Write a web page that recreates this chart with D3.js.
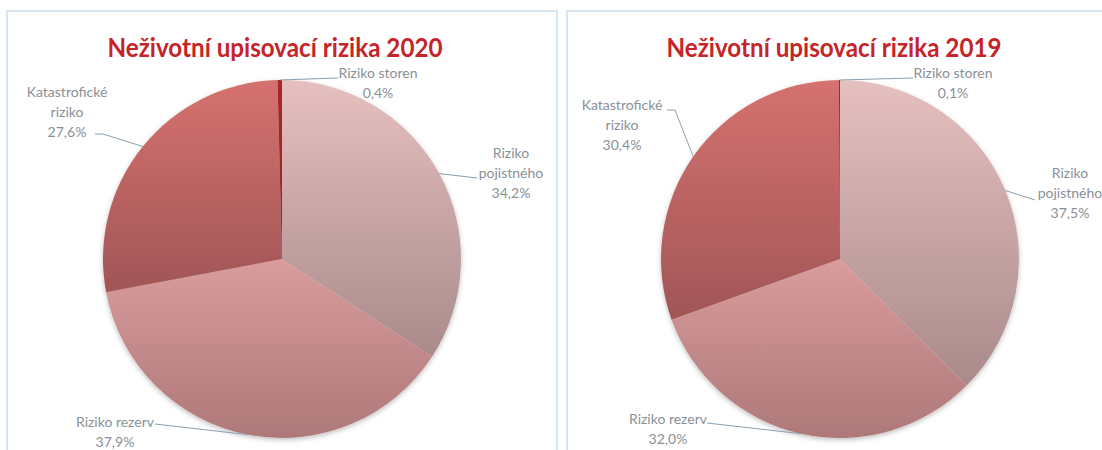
<!DOCTYPE html>
<html>
<head>
<meta charset="utf-8">
<script src="https://cdn.jsdelivr.net/npm/d3@7"></script>
<style>
  html, body { margin: 0; padding: 0; background: #ffffff; }
  svg { display: block; }
</style>
</head>
<body>
<svg id="chart" width="1102" height="450"></svg>
<script>
// ---- data ----
const categories = ["Riziko pojistného", "Riziko rezerv", "Katastrofické riziko", "Riziko storen"];
const labelLines = [["Riziko", "pojistného"], ["Riziko rezerv"], ["Katastrofické", "riziko"], ["Riziko storen"]];
const values2020 = [34.2, 37.9, 27.6, 0.4];
const values2019 = [37.5, 32.0, 30.4, 0.1];
const titles = ["Neživotní upisovací rizika 2020", "Neživotní upisovací rizika 2019"];

// ---- styles ----
const gradStops = [
  ["#e6c0bf", "#a98a8b"],
  ["#da9c9d", "#ae7879"],
  ["#d5726f", "#a15556"],
  ["#a8282b", "#9a2225"]
];

// ---- layout ----
const panels = [
  { x: 7, y: 11, w: 550, h: 460, cx: 282, cy: 259, r: 179, titleX: 275,
    labels: [
      { tx: 511, ty: 153, path: [[477, 178]] },
      { tx: 115, ty: 422, path: [[155, 424]] },
      { tx: 67, ty: 92, path: [[103, 134], [95, 134]] },
      { tx: 378, ty: 73, path: [[338, 78]] }
    ] },
  { x: 567, y: 11, w: 560, h: 460, cx: 840, cy: 259, r: 179, titleX: 834,
    labels: [
      { tx: 1070, ty: 173, path: [[1035, 200]] },
      { tx: 668, ty: 419, path: [[707, 423]] },
      { tx: 622, ty: 105, path: [[675, 110], [667, 110]] },
      { tx: 953, ty: 73, path: [[913, 78]] }
    ] }
];
const datasets = [values2020, values2019];

const svg = d3.select("#chart");
const defs = svg.append("defs");

gradStops.forEach((c, i) => {
  const g = defs.append("linearGradient").attr("id", "g" + i)
    .attr("x1", 0).attr("y1", 0).attr("x2", 0).attr("y2", 1);
  g.append("stop").attr("offset", "0%").attr("stop-color", c[0]);
  g.append("stop").attr("offset", "100%").attr("stop-color", c[1]);
});

const shadow = defs.append("filter").attr("id", "shadow")
  .attr("x", "-10%").attr("y", "-10%").attr("width", "120%").attr("height", "125%");
shadow.append("feDropShadow").attr("dx", 0).attr("dy", 2).attr("stdDeviation", 2.5)
  .attr("flood-color", "#000").attr("flood-opacity", 0.25);

const fmt = v => d3.format(".1f")(v).replace(".", ",") + "%";

const pie = d3.pie().sort(null).value(d => d);

panels.forEach((p, pi) => {
  svg.append("rect")
    .attr("x", p.x).attr("y", p.y).attr("width", p.w).attr("height", p.h)
    .attr("fill", "#ffffff").attr("stroke", "#d5e3f3").attr("stroke-width", 2);

  svg.append("text")
    .attr("x", p.titleX).attr("y", 57)
    .attr("text-anchor", "middle")
    .attr("font-family", "Lato, 'Open Sans', sans-serif")
    .attr("font-weight", 700)
    .attr("font-size", 26)
    .attr("fill", "#c52428")
    .attr("textLength", 335)
    .attr("lengthAdjust", "spacingAndGlyphs")
    .text(titles[pi]);

  const arcs = pie(datasets[pi]);
  const arc = d3.arc().innerRadius(0).outerRadius(p.r);

  const g = svg.append("g")
    .attr("transform", `translate(${p.cx},${p.cy})`)
    .attr("filter", "url(#shadow)");
  g.selectAll("path").data(arcs).join("path")
    .attr("d", arc)
    .attr("fill", (d, i) => `url(#g${i})`);

  // leader lines + labels
  arcs.forEach((d, i) => {
    const L = p.labels[i];
    const mid = (d.startAngle + d.endAngle) / 2;
    const sx = p.cx + p.r * Math.sin(mid);
    const sy = p.cy - p.r * Math.cos(mid);
    const pts = [[sx, sy]].concat(L.path);
    svg.append("path")
      .attr("d", d3.line()(pts))
      .attr("fill", "none")
      .attr("stroke", "#8c9fae")
      .attr("stroke-width", 1);

    const lines = labelLines[i].concat([fmt(d.data)]);
    const t = svg.append("text")
      .attr("text-anchor", "middle")
      .attr("font-family", "Lato, 'Open Sans', sans-serif")
      .attr("font-size", 14)
      .attr("fill", "#8a9097");
    lines.forEach((ln, k) => {
      t.append("tspan").attr("x", L.tx).attr("y", L.ty + k * 20)
        .attr("dy", "0.35em").text(ln);
    });
  });
});
</script>
</body>
</html>
